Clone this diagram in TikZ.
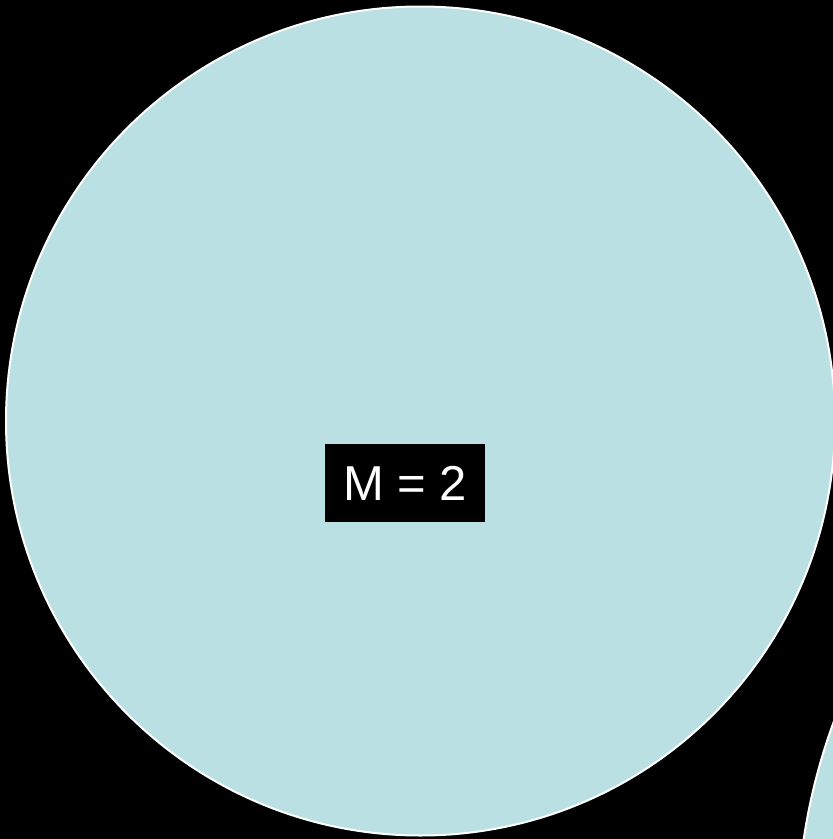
\documentclass[tikz,border=0pt]{standalone}
\usepackage{fontspec}
\setmainfont{Liberation Sans}
\definecolor{bubble}{RGB}{186,224,227}
\tikzset{
  bubblestyle/.style={fill=bubble, draw=white, line width=2pt},
  labelbox/.style={fill=black, text=white, inner sep=0pt, minimum width=160pt, minimum height=78pt, font=\fontsize{49}{58}\selectfont}
}
\begin{document}
\begin{tikzpicture}[x=1pt,y=-1pt]
\useasboundingbox (0,0) rectangle (833,839);
\fill[black] (0,0) rectangle (833,839);
\clip (0,0) rectangle (833,839);
\path[bubblestyle] (420.5,421) circle (414.5);
\path[bubblestyle] (1397,929) circle (600);
\node[labelbox] (m) at (405,483) {M = 2};
\end{tikzpicture}
\end{document}
